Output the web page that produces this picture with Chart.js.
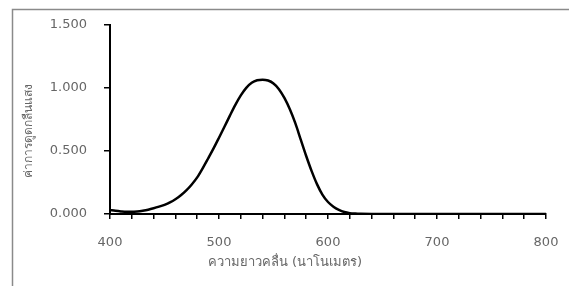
<!DOCTYPE html>
<html>
<head>
<meta charset="utf-8">
<script src="https://cdn.jsdelivr.net/npm/chart.js@4/dist/chart.umd.min.js"></script>
<style>
html,body{margin:0;padding:0;background:#fff;}
#wrap{position:relative;width:569px;height:286px;}
</style>
</head>
<body>
<div id="wrap"><canvas id="c" width="569" height="286"></canvas></div>
<script>
const wavelengths = [400,405,410,415,420,425,430,435,440,445,450,455,460,465,470,475,480,485,490,495,500,505,510,515,520,525,530,535,540,545,550,555,560,565,570,575,580,585,590,595,600,605,610,615,620,625,630,640,660,680,700,720,740,760,780,800];
const absorbance = [0.032,0.025,0.020,0.017,0.017,0.020,0.026,0.034,0.045,0.058,0.073,0.092,0.117,0.148,0.187,0.234,0.290,0.362,0.440,0.520,0.605,0.692,0.780,0.865,0.940,1.000,1.040,1.060,1.065,1.058,1.035,0.990,0.920,0.830,0.720,0.590,0.460,0.340,0.235,0.152,0.095,0.058,0.033,0.016,0.007,0.003,0.001,0,0,0,0,0,0,0,0,0];
const yTicks = [0, 0.5, 1.0, 1.5];
const xLabels = [400, 500, 600, 700, 800];
const xTitle = 'ความยาวคลื่น (นาโนเมตร)';
const yTitle = 'ค่าการดูดกลืนแสง';

const points = wavelengths.map((w, i) => ({x: w, y: absorbance[i]}));
const FONT = 'DejaVu Sans, Noto Sans, sans-serif';

const decor = {
  id: 'decor',
  beforeDraw(chart) {
    const ctx = chart.ctx;
    ctx.save();
    ctx.strokeStyle = '#8a8a8a';
    ctx.lineWidth = 1.5;
    ctx.beginPath();
    ctx.moveTo(569, 9.5);
    ctx.lineTo(12.5, 9.5);
    ctx.lineTo(12.5, 286);
    ctx.stroke();
    ctx.restore();
  },
  afterDraw(chart) {
    const ctx = chart.ctx;
    ctx.save();
    ctx.fillStyle = '#666';
    ctx.font = '13px ' + FONT;
    ctx.textAlign = 'center';
    ctx.textBaseline = 'middle';
    ctx.fillText(xTitle, 285, 263);
    ctx.font = '12px ' + FONT;
    ctx.translate(29, 131);
    ctx.rotate(-Math.PI / 2);
    ctx.fillText(yTitle, 0, 0);
    ctx.restore();
  }
};

new Chart(document.getElementById('c'), {
  type: 'line',
  data: {
    datasets: [{
      data: points,
      borderColor: '#000',
      borderWidth: 2.5,
      pointRadius: 0,
      fill: false,
      cubicInterpolationMode: 'monotone'
    }]
  },
  options: {
    responsive: false,
    animation: false,
    layout: { padding: { left: 0, top: 24, right: 23, bottom: 0 } },
    plugins: { legend: { display: false }, tooltip: { enabled: false } },
    scales: {
      x: {
        type: 'linear',
        min: 400, max: 800,
        afterFit(s) { s.height = 72; s.paddingRight = 0; s.paddingLeft = 0; },
        afterBuildTicks(s) {
          const t = [];
          for (let v = 400; v <= 800; v += 20) t.push({value: v});
          s.ticks = t;
        },
        border: { color: '#000', width: 2 },
        grid: { drawOnChartArea: false, color: '#000', tickLength: 5, lineWidth: 1.5 },
        ticks: {
          autoSkip: false,
          maxRotation: 0,
          padding: 16,
          color: '#666',
          font: { family: FONT, size: 13 },
          callback: v => xLabels.includes(v) ? String(v) : ''
        }
      },
      y: {
        min: 0, max: 1.5,
        afterFit(s) { s.width = 110; },
        afterBuildTicks(s) { s.ticks = yTicks.map(v => ({value: v})); },
        border: { color: '#000', width: 2 },
        grid: { drawOnChartArea: false, color: '#000', tickLength: 6, lineWidth: 1.5 },
        ticks: {
          padding: 17,
          color: '#666',
          font: { family: FONT, size: 13 },
          callback: v => Number(v).toFixed(3)
        }
      }
    }
  },
  plugins: [decor]
});
</script>
</body>
</html>
